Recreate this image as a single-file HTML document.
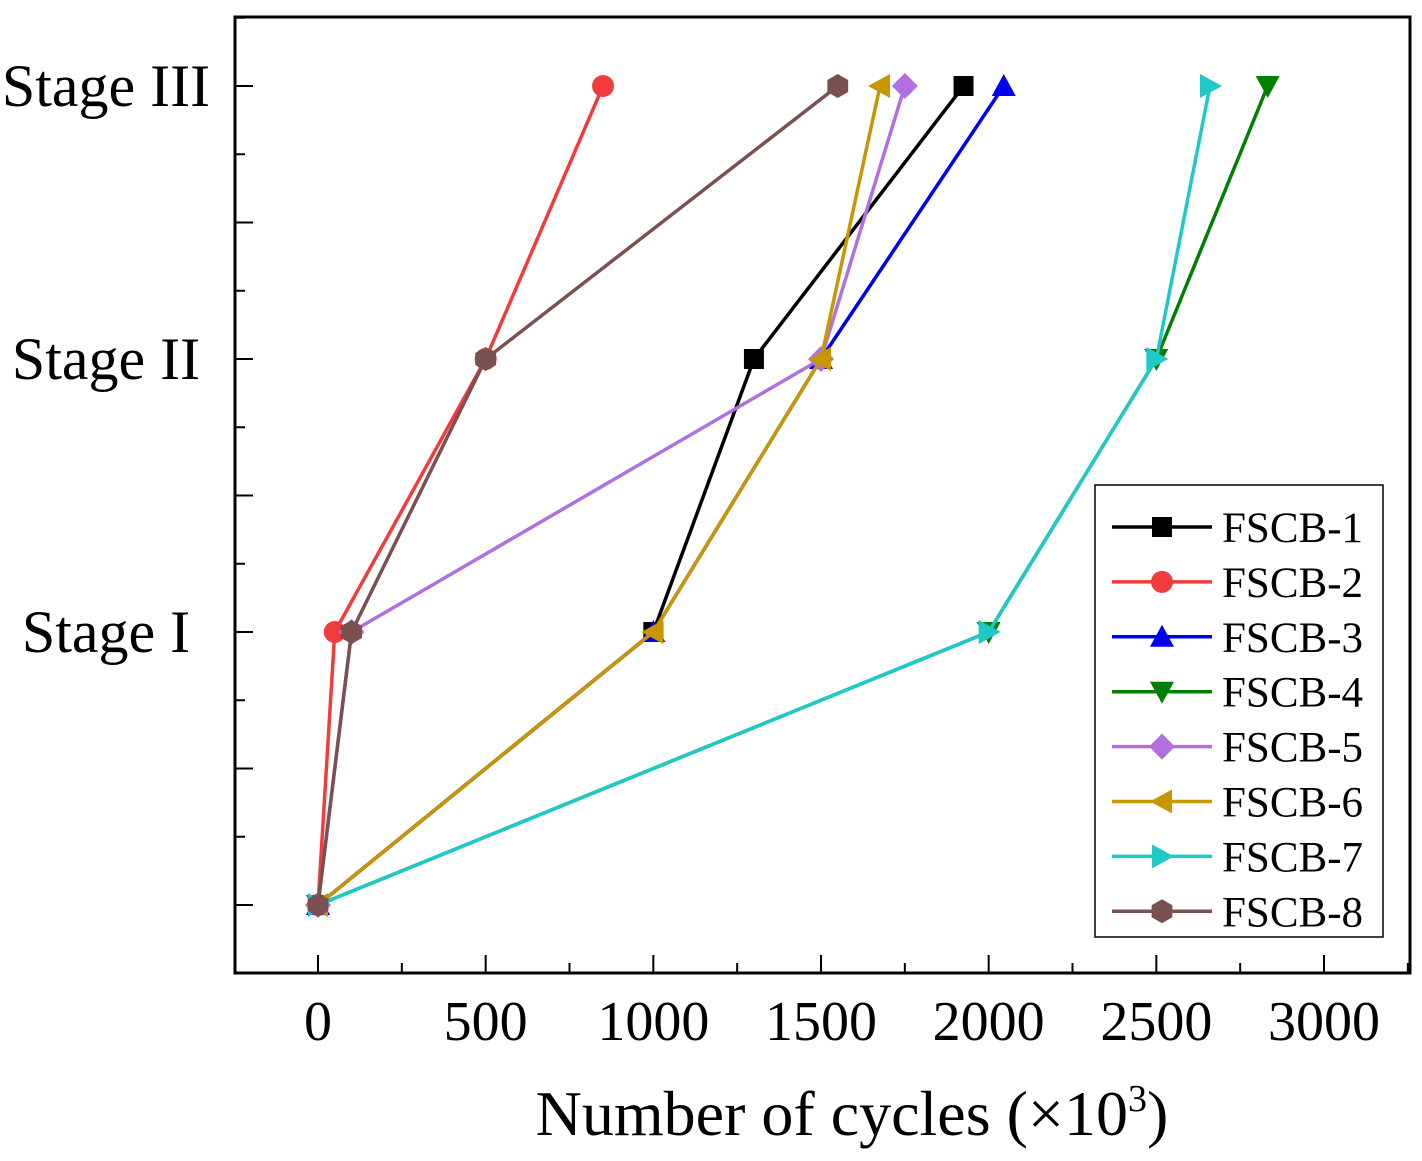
<!DOCTYPE html>
<html><head><meta charset="utf-8"><style>
html,body{margin:0;padding:0;background:#fff;}
svg{display:block;font-family:"Liberation Serif",serif;}
</style></head><body>
<svg id="chart" width="1422" height="1161" viewBox="0 0 1422 1161"></svg>
<script>
const seriesNames=["FSCB-1","FSCB-2","FSCB-3","FSCB-4","FSCB-5","FSCB-6","FSCB-7","FSCB-8"];
const stageLevels=[0,1,2,3];
const s1=[0,1000,1300,1925];
const s2=[0,50,500,850];
const s3=[0,1000,1500,2045];
const s4=[0,2000,2500,2832];
const s5=[0,100,1500,1750];
const s6=[0,1000,1500,1676];
const s7=[0,2000,2500,2660];
const s8=[0,100,500,1550];
const xTicks=[0,500,1000,1500,2000,2500,3000];
const yTickLabels=["Stage I","Stage II","Stage III"];
const colors=["#000000","#f03c3c","#0000f0","#008000","#b070e0","#c89600","#20c8c8","#7a5050"];
const markers=["square","circle","up","down","diamond","left","right","hex"];
const allSeries=[s1,s2,s3,s4,s5,s6,s7,s8];

const NS="http://www.w3.org/2000/svg";
const svg=document.getElementById('chart');
const L=235,R=1410,T=17,B=973;
const x=v=>318+v*(1324-318)/3000;
const y=v=>905-v*273;
function el(tag,attrs,parent){const e=document.createElementNS(NS,tag);for(const k in attrs)e.setAttribute(k,attrs[k]);(parent||svg).appendChild(e);return e;}

const frame=el('rect',{x:L,y:T,width:R-L,height:B-T,fill:'none',stroke:'#000','stroke-width':3});



for(let v=-250;v<=3250;v+=250){
  const px=x(v); if(px<L||px>R)continue;
  const major=v%500===0;
  const t=el('line',{x1:px,x2:px,y1:B,y2:B-(major?18:10),stroke:'#000','stroke-width':2});
  
  
}
xTicks.forEach(v=>{
  const t=el('text',{x:x(v),y:1040,'font-size':56,'text-anchor':'middle'});
  t.textContent=v;
  
  
});
for(let v=-0.25;v<=3.25;v+=0.25){
  const py=y(v);
  const major=Math.abs(v*2-Math.round(v*2))<1e-6;
  const t=el('line',{x1:L,x2:L+(major?18:10),y1:py,y2:py,stroke:'#000','stroke-width':2});
  
  
}
yTickLabels.forEach((s,i)=>{
  const t=el('text',{x:106,y:y(stageLevels[i+1])+20,'font-size':60,'text-anchor':'middle'});
  t.textContent=s;
  
  
});
const xt=el('text',{x:852,y:1135,'font-size':64,'text-anchor':'middle'});
xt.innerHTML='Number of cycles (×10<tspan dy="-24" font-size="38">3</tspan><tspan dy="24">)</tspan>';



function marker(type,cx,cy,c,g){
  const r=10;let m;
  if(type==='square')m=el('rect',{x:cx-r,y:cy-r,width:2*r,height:2*r,fill:c},g);
  else if(type==='circle')m=el('circle',{cx,cy,r:r+1,fill:c},g);
  else{
    let pts;
    if(type==='up')pts=[[0,-12],[12,10],[-12,10]];
    else if(type==='down')pts=[[0,12],[12,-10],[-12,-10]];
    else if(type==='left')pts=[[-12,0],[10,-12],[10,12]];
    else if(type==='right')pts=[[12,0],[-10,-12],[-10,12]];
    else if(type==='diamond')pts=[[0,-13],[13,0],[0,13],[-13,0]];
    else pts=[0,1,2,3,4,5].map(i=>[12*Math.cos(Math.PI/6+i*Math.PI/3),12*Math.sin(Math.PI/6+i*Math.PI/3)]);
    m=el('polygon',{points:pts.map(p=>(cx+p[0])+','+(cy+p[1])).join(' '),fill:c},g);
  }
  return m;
}

allSeries.forEach((s,i)=>{
  const g=el('g',{});
  
  
  const ln=el('polyline',{points:s.map((v,j)=>x(v)+','+y(stageLevels[j])).join(' '),fill:'none',stroke:colors[i],'stroke-width':3.5},g);
  
  
  s.forEach((v,j)=>{
    const m=marker(markers[i],x(v),y(stageLevels[j]),colors[i],g);
    
    
  });
});

const lg=el('g',{});


const lb=el('rect',{x:1095,y:485,width:288,height:452,fill:'#fff',stroke:'#000','stroke-width':1.5},lg);


seriesNames.forEach((n,i)=>{
  const cy=527+i*54.9;
  const g=el('g',{},lg);
  
  
  el('line',{x1:1112,x2:1212,y1:cy,y2:cy,stroke:colors[i],'stroke-width':3.5},g);
  marker(markers[i],1162,cy,colors[i],g);
  const t=el('text',{x:1222,y:cy+15,'font-size':43},g);
  t.textContent=n;
});
</script>
</body></html>
